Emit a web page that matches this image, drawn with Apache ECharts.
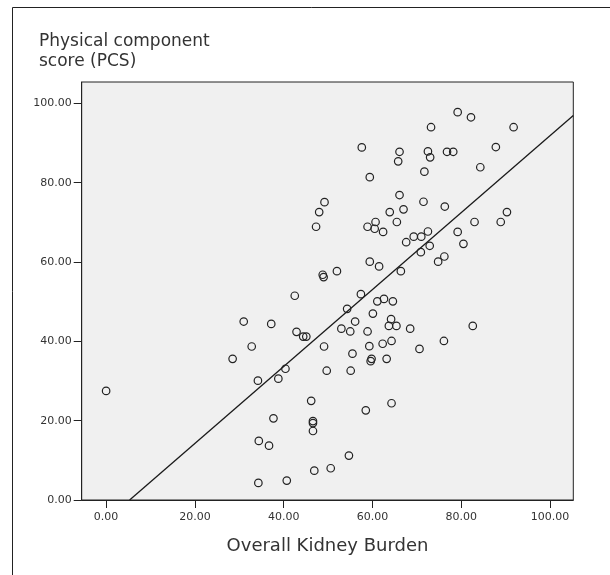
<!DOCTYPE html>
<html>
<head>
<meta charset="utf-8">
<script src="https://cdn.jsdelivr.net/npm/echarts@6/dist/echarts.min.js"></script>
<style>
  html, body { margin: 0; padding: 0; background: #ffffff; }
  #chart { width: 610px; height: 575px; }
</style>
</head>
<body>
<div id="chart"></div>
<script>
// Overall Kidney Burden (x) vs Physical component score (y)
const kidneyBurden = [
  49.2, 48.0, 47.3, 48.8, 49.0, 42.5, 31.0, 37.2, 42.9, 44.4,
  45.1, 49.1, 32.8, 28.5, 40.4, 49.7, 34.2, 38.8, 0.0, 46.2,
  37.7, 46.6, 46.6, 46.6, 34.4, 36.7, 46.9, 50.6, 34.3, 40.7,
  79.2, 82.2, 73.2, 91.8, 57.6, 87.8, 66.1, 72.5, 76.8, 78.2,
  65.8, 73.0, 71.7, 84.3, 59.4, 66.1, 71.5, 76.3, 63.9, 67.0,
  90.3, 65.5, 83.0, 88.9, 58.9, 60.7, 60.5, 62.4, 79.2, 72.5,
  69.3, 71.0, 67.6, 72.9, 80.5, 70.9, 76.2, 74.8, 59.4, 61.5,
  66.4, 52.0, 57.4, 61.1, 62.6, 64.6, 54.3, 60.1, 64.2, 56.1,
  53.0, 55.0, 58.9, 63.7, 65.4, 68.5, 82.6, 59.3, 62.3, 64.3,
  76.1, 70.6, 55.5, 59.8, 59.6, 63.2, 55.1, 58.5, 64.3, 54.7
];
const pcsScore = [
  75.1, 72.6, 68.9, 56.8, 56.2, 51.5, 45.0, 44.4, 42.4, 41.2,
  41.2, 38.7, 38.7, 35.6, 33.1, 32.6, 30.1, 30.6, 27.5, 25.0,
  20.6, 19.9, 19.4, 17.4, 14.9, 13.7, 7.4, 8.0, 4.3, 4.9,
  97.8, 96.5, 94.0, 94.0, 88.9, 89.0, 87.8, 87.9, 87.8, 87.8,
  85.4, 86.4, 82.8, 83.9, 81.4, 76.9, 75.2, 74.0, 72.6, 73.3,
  72.6, 70.1, 70.1, 70.1, 68.9, 70.1, 68.4, 67.6, 67.6, 67.7,
  66.4, 66.4, 65.0, 64.1, 64.6, 62.5, 61.4, 60.1, 60.1, 58.9,
  57.7, 57.7, 51.9, 50.1, 50.7, 50.1, 48.2, 47.0, 45.6, 45.0,
  43.2, 42.5, 42.5, 43.9, 43.9, 43.2, 43.9, 38.8, 39.4, 40.1,
  40.1, 38.1, 36.9, 35.6, 35.0, 35.6, 32.6, 22.6, 24.4, 11.2
];
const xTicks = [0, 20, 40, 60, 80, 100];
const yTicks = [0, 20, 40, 60, 80, 100];
const xRange = [-5.5, 105.25];
const yRange = [0, 105.4];
// Fit line: y = fitIntercept + fitSlope * x
const fitIntercept = -5.14;
const fitSlope = 0.970;

const points = kidneyBurden.map((x, i) => [x, pcsScore[i]]);
const fitStartX = -fitIntercept / fitSlope;
const fitLine = [
  [fitStartX, fitIntercept + fitSlope * fitStartX],
  [xRange[1], fitIntercept + fitSlope * xRange[1]]
];

const FONT = '"DejaVu Sans", sans-serif';
const TEXT = '#333';
const chart = echarts.init(document.getElementById('chart'), null, { renderer: 'canvas' });
chart.setOption({
  animation: false,
  backgroundColor: '#ffffff',
  title: {
    text: 'Physical component\nscore (PCS)',
    left: 39, top: 31, padding: 0,
    textStyle: { fontFamily: FONT, fontSize: 17, fontWeight: 'normal', color: TEXT, lineHeight: 20.4 }
  },
  graphic: [{
    type: 'rect', silent: true, z: -1,
    shape: { x: 12.5, y: 7.5, width: 640, height: 620 },
    style: { fill: 'none', stroke: '#222', lineWidth: 1 }
  }],
  grid: {
    left: 81.7, right: 36.7, top: 82, bottom: 75,
    show: true, backgroundColor: '#f0f0f0', borderColor: '#222', borderWidth: 1
  },
  xAxis: {
    type: 'value', min: xRange[0], max: xRange[1],
    name: 'Overall Kidney Burden', nameLocation: 'middle', nameGap: 37,
    nameTextStyle: { fontFamily: FONT, fontSize: 18, color: TEXT },
    splitLine: { show: false },
    axisLine: { show: true, onZero: false, lineStyle: { color: '#222' } },
    axisTick: { show: true, length: 8, customValues: xTicks, lineStyle: { color: '#222' } },
    axisLabel: { customValues: xTicks, margin: 12, fontFamily: FONT, fontSize: 11, color: TEXT,
      formatter: v => v.toFixed(2) }
  },
  yAxis: {
    type: 'value', min: yRange[0], max: yRange[1],
    splitLine: { show: false },
    axisLine: { show: true, onZero: false, lineStyle: { color: '#222' } },
    axisTick: { show: true, length: 8, customValues: yTicks, lineStyle: { color: '#222' } },
    axisLabel: { customValues: yTicks, margin: 10, fontFamily: FONT, fontSize: 11, color: TEXT,
      formatter: v => v.toFixed(2) }
  },
  series: [
    {
      type: 'line', data: fitLine, symbol: 'none', silent: true,
      lineStyle: { color: '#1a1a1a', width: 1.3 }, z: 2
    },
    {
      type: 'scatter', data: points, symbol: 'circle', symbolSize: 7.5,
      itemStyle: { color: 'rgba(0,0,0,0)', borderColor: '#222', borderWidth: 1.2, opacity: 1 },
      z: 3
    }
  ]
});
</script>
</body>
</html>
